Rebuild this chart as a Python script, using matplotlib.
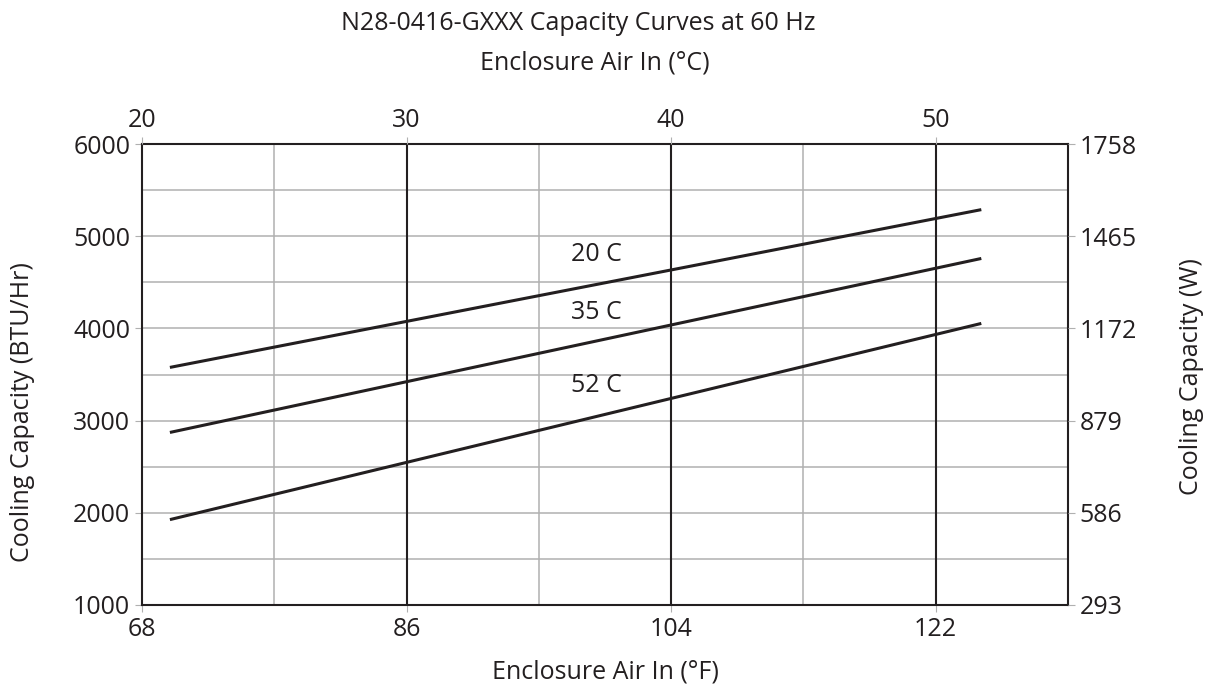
import matplotlib
matplotlib.use("Agg")
from matplotlib import pyplot as plt

plt.rcParams['font.family'] = ['Open Sans', 'DejaVu Sans']

# data (deg F vs BTU/Hr)
temp_f = [70, 125]
cap_20c = [3580, 5285]
cap_35c = [2875, 4755]
cap_52c = [1930, 4050]
curve_names = ["20 C", "35 C", "52 C"]
label_pos = [(98.9, 4800), (98.9, 4170), (98.9, 3380)]

f_ticks = [68, 86, 104, 122]
c_labels = ["20", "30", "40", "50"]
btu_ticks = [1000, 2000, 3000, 4000, 5000, 6000]
w_labels = ["293", "586", "879", "1172", "1465", "1758"]

FS = 18
INK = "#231f20"
W, H = 1215, 687

fig = plt.figure(figsize=(12.15, 6.87), dpi=100)
ax = fig.add_axes([142/W, 1-605/H, (1068-142)/W, (605-144)/H])

ax.set_xlim(68, 131)
ax.set_ylim(1000, 6000)

# grid
for y in range(1500, 6000, 500):
    ax.axhline(y, color="#b0b0b0", lw=1.1, zorder=1)
for x in [77, 95, 113]:
    ax.axvline(x, color="#b0b0b0", lw=1.1, zorder=1)
for x in [86, 104, 122]:
    ax.axvline(x, color=INK, lw=1.5, zorder=2)

for s in ax.spines.values():
    s.set_color(INK)
    s.set_linewidth(1.5)

for cap in [cap_20c, cap_35c, cap_52c]:
    ax.plot(temp_f, cap, color=INK, lw=2.2, zorder=3)
for name, (x, y) in zip(curve_names, label_pos):
    ax.text(x, y, name, fontsize=FS, color=INK, ha="center", va="center")

ax.set_xticks(f_ticks)
ax.set_xticklabels([str(t) for t in f_ticks])
ax.set_yticks(btu_ticks)
ax.tick_params(axis="both", labelsize=FS, colors=INK, color="#b0b0b0", length=5)

ax2 = ax.twinx()
ax2.set_ylim(ax.get_ylim())
ax2.set_yticks(btu_ticks)
ax2.set_yticklabels(w_labels)
ax2.tick_params(axis="y", labelsize=FS, colors=INK, color="#b0b0b0", length=5)
for s in ax2.spines.values():
    s.set_visible(False)

ax3 = ax.twiny()
ax3.set_xlim(ax.get_xlim())
ax3.set_xticks(f_ticks)
ax3.set_xticklabels(c_labels)
ax3.tick_params(axis="x", labelsize=FS, colors=INK, color="#b0b0b0", length=5, pad=3)
for s in ax3.spines.values():
    s.set_visible(False)

# titles and axis labels
fig.text(578/W, 1-24/H, "N28-0416-GXXX Capacity Curves at 60 Hz", fontsize=FS,
         color=INK, ha="center", va="center")
fig.text(595/W, 1-63/H, "Enclosure Air In (°C)", fontsize=FS,
         color=INK, ha="center", va="center")
fig.text(605/W, 1-672/H, "Enclosure Air In (°F)", fontsize=FS,
         color=INK, ha="center", va="center")
fig.text(23/W, 1-412/H, "Cooling Capacity (BTU/Hr)", fontsize=FS,
         color=INK, ha="center", va="center", rotation=90)
fig.text(1192/W, 1-377/H, "Cooling Capacity (W)", fontsize=FS,
         color=INK, ha="center", va="center", rotation=90)

fig.savefig("out.png", dpi=100)
